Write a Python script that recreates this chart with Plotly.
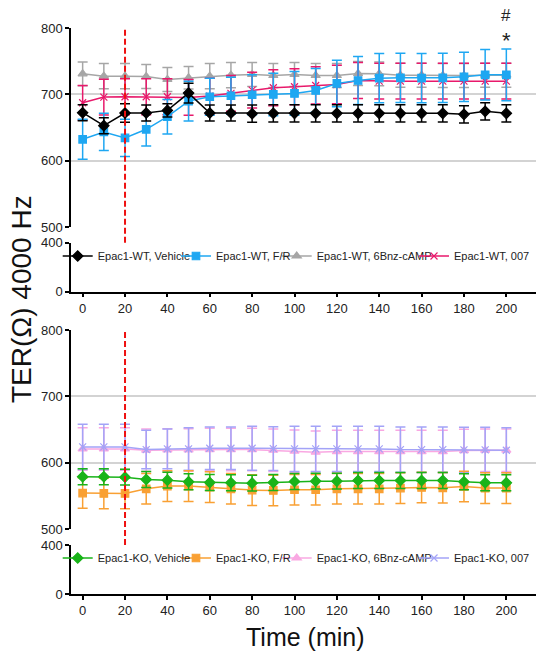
import plotly.graph_objects as go

time_min = [0, 10, 20, 30, 40, 50, 60, 70, 80, 90, 100, 110, 120, 130, 140, 150, 160, 170, 180, 190, 200]
treatment_time = 20

# Epac1-WT panel
wt_vehicle = [672.5, 653, 672, 672, 676, 702, 672, 672, 671, 671.5, 671.5, 671.5, 671.5, 671.5, 671.5, 671.5, 671.5, 671.5, 670, 674.5, 671.5]
wt_vehicle_err = [12, 12, 14, 12, 10, 15, 12, 12, 13, 13, 13, 13, 13, 13, 13, 13, 13, 13, 13, 13, 13]
wt_fr = [632.5, 643.5, 634.5, 647.5, 666.5, 690, 696.5, 698, 699.5, 700, 701.5, 706, 716.5, 721, 724.5, 725, 724.5, 725, 726.5, 729.5, 729.5]
wt_fr_err = [30, 28, 28, 25, 26, 30, 28, 28, 30, 32, 33, 33, 35, 36, 37, 37, 37, 37, 37, 38, 39]
wt_6bnz = [731, 727.5, 727.5, 727, 722.5, 725, 727.5, 729, 730, 728.5, 730, 728.5, 728.5, 731.5, 731, 729, 729, 728.5, 728.5, 729, 729]
wt_6bnz_err = [18, 19, 19, 18, 18, 17, 19, 19, 18, 18, 18, 18, 18, 18, 18, 18, 18, 18, 18, 18, 18]
wt_007 = [687.5, 696, 696.5, 696.5, 696.5, 695.5, 697.5, 701.5, 706.5, 710, 711.5, 713.5, 715, 721, 720, 720, 720, 720, 720, 720, 720]
wt_007_err = [26, 27, 27, 27, 27, 27, 27, 27, 27, 27, 27, 28, 29, 27, 27, 27, 27, 27, 27, 27, 27]

# Epac1-KO panel
ko_vehicle = [579, 579, 578.5, 575, 574, 571.5, 570.5, 570, 569.5, 570.5, 572, 572.5, 572.5, 573.5, 573.5, 573.5, 573.5, 573.5, 571.5, 570, 570]
ko_vehicle_err = [12, 12, 12, 12, 12, 12, 12, 12, 12, 12, 12, 12, 12, 12, 12, 12, 12, 12, 12, 12, 12]
ko_fr = [554.5, 554, 554, 561, 565, 565, 563.5, 561, 559, 558.5, 559.5, 559.5, 561, 561, 561, 562, 563, 562.5, 564.5, 562, 562]
ko_fr_err = [23, 23, 23, 23, 23, 23, 23, 23, 23, 23, 23, 23, 23, 23, 23, 23, 23, 23, 23, 23, 23]
ko_6bnz = [621, 621, 621, 619, 619.5, 619.5, 620, 620, 620, 619, 617.5, 616, 617, 617, 617, 617, 617, 617, 618.5, 619, 619]
ko_6bnz_err = [32, 32, 32, 32, 32, 32, 32, 32, 32, 32, 32, 32, 32, 32, 32, 32, 32, 32, 32, 32, 32]
ko_007 = [624, 624, 624, 620, 621, 621, 622, 622, 622, 621.5, 621, 621, 621, 621, 621, 620, 620, 620, 619.5, 619.5, 619]
ko_007_err = [34, 34, 34, 29, 30, 32, 32, 32, 33, 33, 34, 34, 34, 34, 34, 34, 34, 34, 34, 34, 34]

W, H = 536, 657
L = 71
PW = W - L

def fy(px):
    return (H - px) / H

def fx(px):
    return (px - L) / PW

fig = go.Figure()

# empty traces so that the lower (broken) axis sections exist
for xa, ya in [("x", "y2"), ("x2", "y4")]:
    fig.add_trace(go.Scatter(x=time_min, y=[None] * len(time_min), xaxis=xa, yaxis=ya,
                             showlegend=False, hoverinfo="skip", mode="lines"))

def add(y, err, name, color, symbol, size, xa, ya, legend):
    fig.add_trace(go.Scatter(
        x=time_min, y=y, name=name, mode="lines+markers",
        line=dict(color=color, width=1.5),
        marker=dict(color=color, symbol=symbol, size=size,
                    line=dict(color=color, width=1.2)),
        error_y=dict(type="data", array=err, color=color, thickness=1.5, width=5),
        xaxis=xa, yaxis=ya, legend=legend,
    ))

add(wt_6bnz, wt_6bnz_err, "Epac1-WT, 6Bnz-cAMP", "#a6a6a6", "triangle-up", 8, "x", "y", "legend3")
add(wt_007, wt_007_err, "Epac1-WT, 007", "#e8196b", "x-thin-open", 7, "x", "y", "legend4")
add(wt_fr, wt_fr_err, "Epac1-WT, F/R", "#1ea7f2", "square", 7.5, "x", "y", "legend2")
add(wt_vehicle, wt_vehicle_err, "Epac1-WT, Vehicle", "#000000", "diamond", 8, "x", "y", "legend")

add(ko_6bnz, ko_6bnz_err, "Epac1-KO, 6Bnz-cAMP", "#f9a8e2", "triangle-up", 8, "x2", "y3", "legend7")
add(ko_007, ko_007_err, "Epac1-KO, 007", "#a3a3f7", "x-thin-open", 7, "x2", "y3", "legend8")
add(ko_fr, ko_fr_err, "Epac1-KO, F/R", "#f9a033", "square", 7.5, "x2", "y3", "legend6")
add(ko_vehicle, ko_vehicle_err, "Epac1-KO, Vehicle", "#19b319", "diamond", 8, "x2", "y3", "legend5")

tickfont = dict(family="Liberation Sans, Arial", size=13, color="#222")
grid = "#d3d3d3"

common = dict(showline=True, linecolor="black", linewidth=1.5,
              ticks="outside", ticklen=4, tickwidth=1.5, tickcolor="black",
              zeroline=False, tickfont=tickfont, automargin=False, fixedrange=True)

def yupper(dom, anchor):
    return dict(domain=dom, range=[500, 800], tickvals=[500, 600, 700, 800],
                showgrid=True, gridcolor=grid, gridwidth=1.5, anchor=anchor, **common)

def ylower(dom, anchor):
    return dict(domain=dom, range=[0, 400], tickvals=[0, 400],
                showgrid=True, gridcolor=grid, gridwidth=1.5, anchor=anchor, **common)

def xax(anchor):
    return dict(domain=[0, 1], range=[-5.5, 214], tickvals=list(range(0, 201, 20)),
                showgrid=False, anchor=anchor, **common)

leg_common = dict(orientation="h", xanchor="left", yanchor="middle",
                  font=dict(size=11, color="#222", family="Liberation Sans, Arial"),
                  bgcolor="rgba(0,0,0,0)", itemwidth=30)
text_starts = [96.7, 215, 315.7, 453]
legends = {}
for i, ts in enumerate(text_starts):
    legends["legend" if i == 0 else f"legend{i + 1}"] = dict(x=fx(ts - 39), y=fy(256), **leg_common)
    legends[f"legend{i + 5}"] = dict(x=fx(ts - 39), y=fy(558), **leg_common)

fig.update_layout(
    width=W, height=H,
    margin=dict(l=L, r=0, t=0, b=0, autoexpand=False),
    paper_bgcolor="white", plot_bgcolor="white",
    font=dict(family="Liberation Sans, Arial", color="#222"),
    xaxis=xax("y2"),
    xaxis2=xax("y4"),
    yaxis=yupper([fy(227.3), fy(28)], "x"),
    yaxis2=ylower([fy(291.7), fy(242.7)], "x"),
    yaxis3=yupper([fy(529.3), fy(330)], "x2"),
    yaxis4=ylower([fy(594), fy(545)], "x2"),
    showlegend=True,
    **legends,
)

# treatment marker lines
for top, bot in [(28, 242.7), (330, 545)]:
    fig.add_shape(type="line", xref="x", yref="paper", x0=treatment_time, x1=treatment_time,
                  y0=fy(bot), y1=fy(top), line=dict(color="#ee1111", width=2, dash="6px,3px"))

fig.add_annotation(x=200, y=fy(15), xref="x", yref="paper", text="#", showarrow=False,
                   xanchor="center", yanchor="middle", font=dict(size=17, color="#222"))
fig.add_annotation(x=200, y=fy(40), xref="x", yref="paper", text="*", showarrow=False,
                   xanchor="center", yanchor="middle", font=dict(size=22, color="#222"))

fig.add_annotation(x=fx(21), y=fy(299), xref="paper", yref="paper",
                   xanchor="center", yanchor="middle",
                   text="TER(Ω) 4000 Hz", textangle=-90, showarrow=False,
                   font=dict(size=28, color="#111"))
fig.add_annotation(x=fx(305), y=fy(637), xref="paper", yref="paper",
                   xanchor="center", yanchor="middle",
                   text="Time (min)", showarrow=False,
                   font=dict(size=25, color="#111"))

fig.write_html("out.html", config={"displayModeBar": False},
               post_script="document.body.style.margin='0';document.body.style.overflow='hidden';")
